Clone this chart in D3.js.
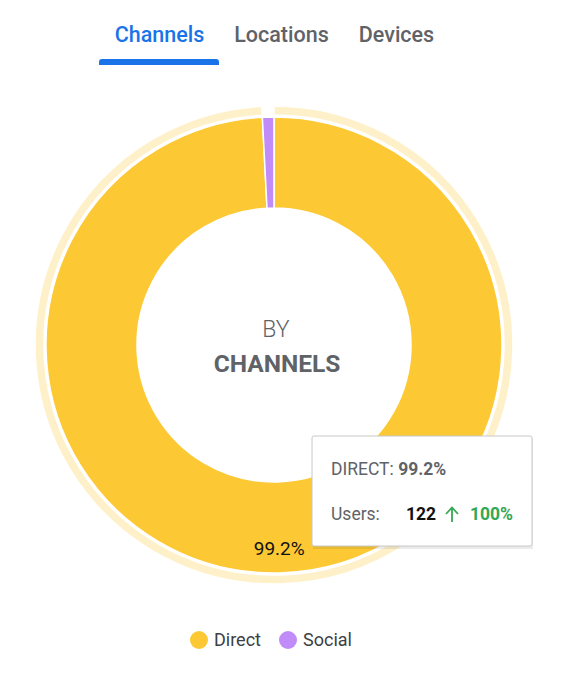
<!DOCTYPE html>
<html>
<head>
<meta charset="utf-8">
<script src="https://cdn.jsdelivr.net/npm/d3@7"></script>
<style>
  html, body { margin: 0; padding: 0; background: #fff; }
  body { font-family: Roboto, "Noto Sans", sans-serif; }
  svg text { font-family: Roboto, "Noto Sans", sans-serif; }
</style>
</head>
<body>
<svg id="chart" width="561" height="680"></svg>
<script>
// tabs on top
const tabs = ["Channels", "Locations", "Devices"];
const activeTab = "Channels";

// channel data (users)
const channels = ["Direct", "Social"];
const users = [122, 1];
const shares = [99.2, 0.8];
const colors = ["#fcc934", "#c28cf8"];

// tooltip content
const tipChannel = "DIRECT";
const tipShare = "99.2%";
const tipUsers = 122;
const tipChange = "100%";

const svg = d3.select("#chart");

/*------------------- tabs -------------------*/
const tabX = d3.scaleOrdinal().domain(tabs).range([159.5, 281.5, 396.5]);

svg.selectAll("text.tab")
    .data(tabs)
    .enter()
    .append("text")
    .attr("class", "tab")
    .attr("x", d => tabX(d))
    .attr("y", 42)
    .attr("text-anchor", "middle")
    .attr("font-size", 21.5)
    .attr("font-weight", 500)
    .attr("fill", d => d === activeTab ? "#1a73e8" : "#5f6368")
    .text(d => d);

// active underline, rounded top
const ux0 = 99, ux1 = 219, uy = 59, uh = 6, ur = 3;
svg.append("path")
    .attr("d", `M${ux0},${uy + uh} L${ux0},${uy + ur} Q${ux0},${uy} ${ux0 + ur},${uy} L${ux1 - ur},${uy} Q${ux1},${uy} ${ux1},${uy + ur} L${ux1},${uy + uh} Z`)
    .attr("fill", "#1a73e8");

/*------------------- donut -------------------*/
const cx = 274, cy = 345;
const g = svg.append("g").attr("transform", `translate(${cx},${cy})`);

const pie = d3.pie().sort(null).value(d => d.users);
const arcs = pie(channels.map((c, i) => ({ name: c, users: users[i], share: shares[i], color: colors[i] })));

const arc = d3.arc().innerRadius(137).outerRadius(228);
const halo = d3.arc().innerRadius(230).outerRadius(239);
const labelArc = d3.arc().innerRadius(203).outerRadius(203);

// hover halo around Direct slice
g.append("path")
    .attr("d", halo(arcs[0]))
    .attr("fill", "#fef0c9")
    .attr("stroke", "#fff")
    .attr("stroke-width", 1.5);

g.selectAll("path.slice")
    .data(arcs)
    .enter()
    .append("path")
    .attr("class", "slice")
    .attr("d", arc)
    .attr("fill", d => d.data.color)
    .attr("stroke", "#fff")
    .attr("stroke-width", 1.5);

// percent label for the big slice
g.selectAll("text.pct")
    .data(arcs.filter(d => d.data.share > 5))
    .enter()
    .append("text")
    .attr("class", "pct")
    .attr("transform", d => `translate(${labelArc.centroid(d)})`)
    .attr("text-anchor", "middle")
    .attr("dy", "0.35em")
    .attr("font-size", 19)
    .attr("fill", "#111")
    .text(d => d.data.share + "%");

// center title
g.append("text")
    .attr("x", 2).attr("y", -8)
    .attr("text-anchor", "middle")
    .attr("font-size", 23)
    .attr("font-weight", 300)
    .attr("fill", "#5f6368")
    .text("BY");
g.append("text")
    .attr("x", 3).attr("y", 27)
    .attr("text-anchor", "middle")
    .attr("font-size", 24.5)
    .attr("font-weight", 700)
    .attr("fill", "#5f6368")
    .text("CHANNELS");

/*------------------- tooltip -------------------*/
const tip = svg.append("g").attr("transform", "translate(312,436)");
tip.append("rect")
    .attr("x", 1).attr("y", 2)
    .attr("width", 220).attr("height", 111)
    .attr("fill", "rgba(0,0,0,0.08)");
tip.append("rect")
    .attr("width", 220).attr("height", 110)
    .attr("fill", "#fff")
    .attr("stroke", "#c8c8c8")
    .attr("stroke-width", 1)
    .attr("rx", 2);

const t1 = tip.append("text").attr("x", 19).attr("y", 39).attr("font-size", 17.5).attr("fill", "#5f6368");
t1.append("tspan").text(tipChannel + ": ");
t1.append("tspan").attr("font-weight", 700).text(tipShare);

tip.append("text").attr("x", 19).attr("y", 84).attr("font-size", 17.5).attr("fill", "#5f6368").text("Users:");
tip.append("text").attr("x", 94).attr("y", 84).attr("font-size", 17.5)
    .attr("font-weight", 700).attr("fill", "#111").text(tipUsers);

// up arrow (thin, icon-like)
tip.append("path")
    .attr("d", "M140,86 L140,72 M134,78 L140,71.5 L146,78")
    .attr("fill", "none")
    .attr("stroke", "#34a853")
    .attr("stroke-width", 1.8);

tip.append("text").attr("x", 158).attr("y", 84).attr("font-size", 17.5)
    .attr("font-weight", 700).attr("fill", "#34a853").text(tipChange);

/*------------------- legend -------------------*/
const legX = d3.scaleOrdinal().domain(channels).range([199, 288]);
const leg = svg.selectAll("g.leg")
    .data(channels)
    .enter()
    .append("g")
    .attr("class", "leg")
    .attr("transform", d => `translate(${legX(d)},640)`);
leg.append("circle").attr("r", 9).attr("fill", (d, i) => colors[i]);
leg.append("text")
    .attr("x", 15).attr("dy", "0.35em")
    .attr("font-size", 18)
    .attr("fill", "#3c4043")
    .text(d => d);
</script>
</body>
</html>
